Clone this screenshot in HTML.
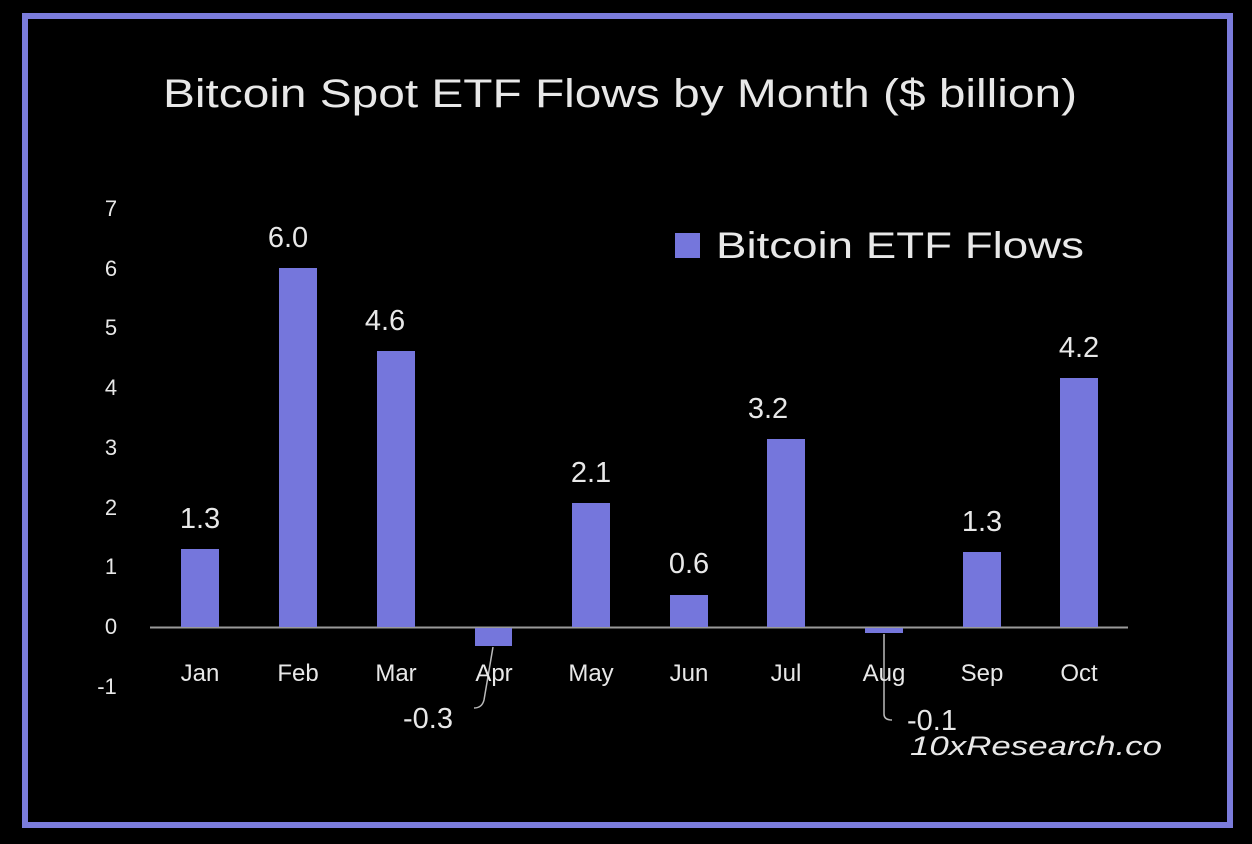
<!DOCTYPE html>
<html><head><meta charset="utf-8"><style>
html,body{margin:0;padding:0;background:#000;}
svg{display:block;}
text{font-family:"Liberation Sans","DejaVu Sans",sans-serif;fill:#e8e8e8;}
</style></head><body>
<svg width="1252" height="844" viewBox="0 0 1252 844" xmlns="http://www.w3.org/2000/svg">
<rect width="1252" height="844" fill="#000"/>
<rect x="25" y="16" width="1205" height="809" fill="none" stroke="#7b7cdc" stroke-width="6"/>
<text x="163" y="107" font-size="40" textLength="914" lengthAdjust="spacingAndGlyphs" fill="#f2f2f2">Bitcoin Spot ETF Flows by Month ($ billion)</text>
<g font-size="22" text-anchor="middle" fill="#cfcfcf">
<text x="111" y="216">7</text><text x="111" y="276">6</text><text x="111" y="335">5</text>
<text x="111" y="395">4</text><text x="111" y="455">3</text><text x="111" y="515">2</text>
<text x="111" y="574">1</text><text x="111" y="634">0</text><text x="107" y="694">-1</text>
</g>
<line x1="150" y1="627.5" x2="1128" y2="627.5" stroke="#9a9a9a" stroke-width="2"/>
<g fill="#7576dc">
<rect x="181" y="549" width="38" height="78"/>
<rect x="279" y="268" width="38" height="359"/>
<rect x="377" y="351" width="38" height="276"/>
<rect x="475" y="628" width="37" height="18"/>
<rect x="572" y="503" width="38" height="124"/>
<rect x="670" y="595" width="38" height="32"/>
<rect x="767" y="439" width="38" height="188"/>
<rect x="865" y="628" width="38" height="5"/>
<rect x="963" y="552" width="38" height="75"/>
<rect x="1060" y="378" width="38" height="249"/>
</g>
<g font-size="29" text-anchor="middle" fill="#ebebeb">
<text x="200" y="528">1.3</text><text x="288" y="247">6.0</text><text x="385" y="330">4.6</text>
<text x="591" y="482">2.1</text><text x="689" y="573">0.6</text><text x="768" y="418">3.2</text>
<text x="982" y="531">1.3</text><text x="1079" y="357">4.2</text>
<text x="428" y="728">-0.3</text><text x="932" y="730">-0.1</text>
</g>
<path d="M493 647 L484 700 Q482 708 474 708" fill="none" stroke="#bbb" stroke-width="1.5"/>
<path d="M884 634 L884 714 Q884 720 892 720" fill="none" stroke="#bbb" stroke-width="1.5"/>
<g font-size="24" text-anchor="middle" fill="#d8d8d8">
<text x="200" y="681">Jan</text><text x="298" y="681">Feb</text><text x="396" y="681">Mar</text>
<text x="494" y="681">Apr</text><text x="591" y="681">May</text><text x="689" y="681">Jun</text>
<text x="786" y="681">Jul</text><text x="884" y="681">Aug</text><text x="982" y="681">Sep</text>
<text x="1079" y="681">Oct</text>
</g>
<rect x="675" y="233" width="25" height="25" fill="#7576dc"/>
<text x="716" y="258" font-size="37" textLength="368" lengthAdjust="spacingAndGlyphs" fill="#ededed">Bitcoin ETF Flows</text>
<text x="910" y="755" font-size="27" font-style="italic" textLength="252" lengthAdjust="spacingAndGlyphs" fill="#e0e0e0">10xResearch.co</text>
</svg>
</body></html>
